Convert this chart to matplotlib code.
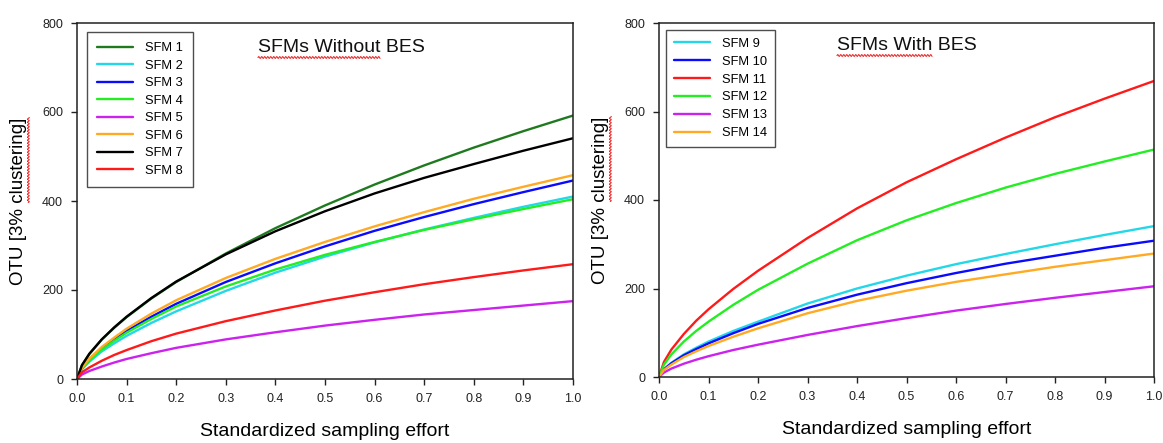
import numpy as np
import matplotlib
matplotlib.use("Agg")
import matplotlib.pyplot as plt
from matplotlib.lines import Line2D
from matplotlib.ticker import MultipleLocator, FormatStrFormatter

# Sampling effort (fraction of reads)
effort = [0.0, 0.01, 0.025, 0.05, 0.075, 0.1, 0.15, 0.2, 0.3, 0.4, 0.5, 0.6, 0.7, 0.8, 0.9, 1.0]

# OTUs at 3% clustering, reactors without BES
sfm1 = [0, 31, 56, 89, 115, 139, 181, 218, 282, 339, 390, 437, 480, 520, 557, 592]
sfm2 = [0, 22, 39, 62, 80, 97, 126, 152, 198, 239, 275, 307, 336, 362, 387, 410]
sfm3 = [0, 24, 44, 69, 89, 108, 140, 169, 218, 260, 298, 333, 364, 393, 420, 446]
sfm4 = [0, 23, 42, 66, 86, 104, 135, 163, 208, 246, 279, 308, 335, 359, 382, 404]
sfm5 = [0, 10, 18, 28, 37, 45, 58, 70, 89, 105, 120, 133, 145, 155, 165, 175]
sfm6 = [0, 25, 46, 72, 93, 113, 147, 177, 227, 270, 308, 343, 375, 405, 432, 458]
sfm7 = [0, 31, 57, 89, 116, 140, 182, 219, 280, 332, 377, 417, 452, 483, 513, 541]
sfm8 = [0, 15, 26, 41, 54, 65, 85, 102, 130, 154, 176, 195, 213, 229, 244, 258]

# OTUs at 3% clustering, reactors with BES
sfm9 = [0, 18, 32, 51, 66, 80, 104, 125, 166, 200, 229, 255, 278, 300, 321, 341]
sfm10 = [0, 17, 31, 49, 63, 76, 99, 120, 156, 186, 212, 235, 256, 274, 292, 308]
sfm11 = [0, 34, 62, 97, 127, 153, 199, 240, 314, 381, 440, 492, 541, 587, 629, 669]
sfm12 = [0, 28, 51, 80, 104, 125, 163, 197, 256, 309, 354, 393, 428, 459, 487, 514]
sfm13 = [0, 10, 19, 30, 39, 47, 61, 73, 95, 115, 133, 150, 165, 179, 192, 205]
sfm14 = [0, 16, 28, 45, 58, 70, 91, 110, 144, 172, 195, 215, 232, 249, 264, 279]

left_labels = ["SFM 1", "SFM 2", "SFM 3", "SFM 4", "SFM 5", "SFM 6", "SFM 7", "SFM 8"]
left_series = [sfm1, sfm2, sfm3, sfm4, sfm5, sfm6, sfm7, sfm8]
left_colors = ["#1f7a1f", "#22d8e8", "#0a0aff", "#22ee22", "#cc22ee", "#ffaa22", "#000000", "#ff1a1a"]

right_labels = ["SFM 9", "SFM 10", "SFM 11", "SFM 12", "SFM 13", "SFM 14"]
right_series = [sfm9, sfm10, sfm11, sfm12, sfm13, sfm14]
right_colors = ["#22d8e8", "#0a0aff", "#ff1a1a", "#22ee22", "#cc22ee", "#ffaa22"]

plt.rcParams["font.family"] = ["Liberation Sans", "DejaVu Sans"]

W, H = 1163, 443
fig = plt.figure(figsize=(W / 100, H / 100), dpi=100)
fig.patch.set_facecolor("white")

axL = fig.add_axes([77 / W, 1 - 379 / H, (573 - 77) / W, (379 - 23) / H])
axR = fig.add_axes([659 / W, 1 - 377 / H, (1154 - 659) / W, (377 - 23) / H])


def style(ax):
    ax.set_xlim(0, 1.0)
    ax.set_ylim(0, 800)
    ax.xaxis.set_major_locator(MultipleLocator(0.1))
    ax.xaxis.set_major_formatter(FormatStrFormatter("%.1f"))
    ax.yaxis.set_major_locator(MultipleLocator(200))
    ax.tick_params(direction="out", length=4, width=1, labelsize=9, pad=6,
                   colors="#222222")
    for sp in ax.spines.values():
        sp.set_linewidth(1.1)
        sp.set_color("#222222")
    ax.set_xlabel("Standardized sampling effort", fontsize=14, labelpad=13)
    ax.set_ylabel("OTU [3% clustering]", fontsize=13.5, labelpad=11)


def draw(ax, series, labels, colors):
    for ys, lab, col in zip(series, labels, colors):
        ax.plot(effort, ys, color=col, lw=1.7, label=lab,
                solid_capstyle="round", solid_joinstyle="round")


style(axL)
style(axR)
draw(axL, left_series, left_labels, left_colors)
draw(axR, right_series, right_labels, right_colors)

legL = axL.legend(loc="upper left", bbox_to_anchor=(0.02, 0.975), fontsize=9.3,
                  frameon=True, fancybox=False, edgecolor="#222222",
                  handlelength=2.8, handletextpad=0.9, labelspacing=0.42,
                  borderpad=0.8, borderaxespad=0.0)
legL.get_frame().set_linewidth(1.0)
legR = axR.legend(loc="upper left", bbox_to_anchor=(0.015, 0.98), fontsize=9.3,
                  frameon=True, fancybox=False, edgecolor="#222222",
                  handlelength=2.8, handletextpad=0.9, labelspacing=0.45,
                  borderpad=0.6, borderaxespad=0.0)
legR.get_frame().set_linewidth(1.0)

titleL = fig.text(258 / W, 1 - 52 / H, "SFMs Without BES", fontsize=14,
                  ha="left", va="baseline", color="#111111")
titleR = fig.text(837 / W, 1 - 50 / H, "SFMs With BES", fontsize=14,
                  ha="left", va="baseline", color="#111111")

# Red wavy proofing underline beneath part of a text
fig.canvas.draw()
renderer = fig.canvas.get_renderer()


def squiggle(x0, x1, y, vertical=False):
    t = np.arange(0, x1 - x0, 0.5)
    w = 1.0 * np.sin(t * np.pi / 1.5)
    if vertical:
        xs, ys = y + w, x0 + t
    else:
        xs, ys = x0 + t, y + w
    fig.add_artist(Line2D(xs, ys, transform=None, color="#ee2222", lw=0.7))


def underline_prefix(txt, prefix):
    full = txt.get_window_extent(renderer)
    probe = fig.text(*txt.get_position(), prefix, fontsize=txt.get_fontsize(),
                     ha="left", va="baseline")
    pe = probe.get_window_extent(renderer)
    probe.remove()
    squiggle(full.x0, pe.x1, full.y0 - 1.5)


underline_prefix(titleL, "SFMs Without")
underline_prefix(titleR, "SFMs With")

for ax in (axL, axR):
    yl = ax.yaxis.label
    bb = yl.get_window_extent(renderer)
    # "clustering]" occupies the top part of the rotated label
    probe = fig.text(0, 0, "OTU [3% ", fontsize=yl.get_fontsize())
    pw = probe.get_window_extent(renderer).width
    probe.remove()
    squiggle(bb.y0 + pw, bb.y1, bb.x1 + 1.5, vertical=True)

fig.savefig("out.png", dpi=100, facecolor="white")
